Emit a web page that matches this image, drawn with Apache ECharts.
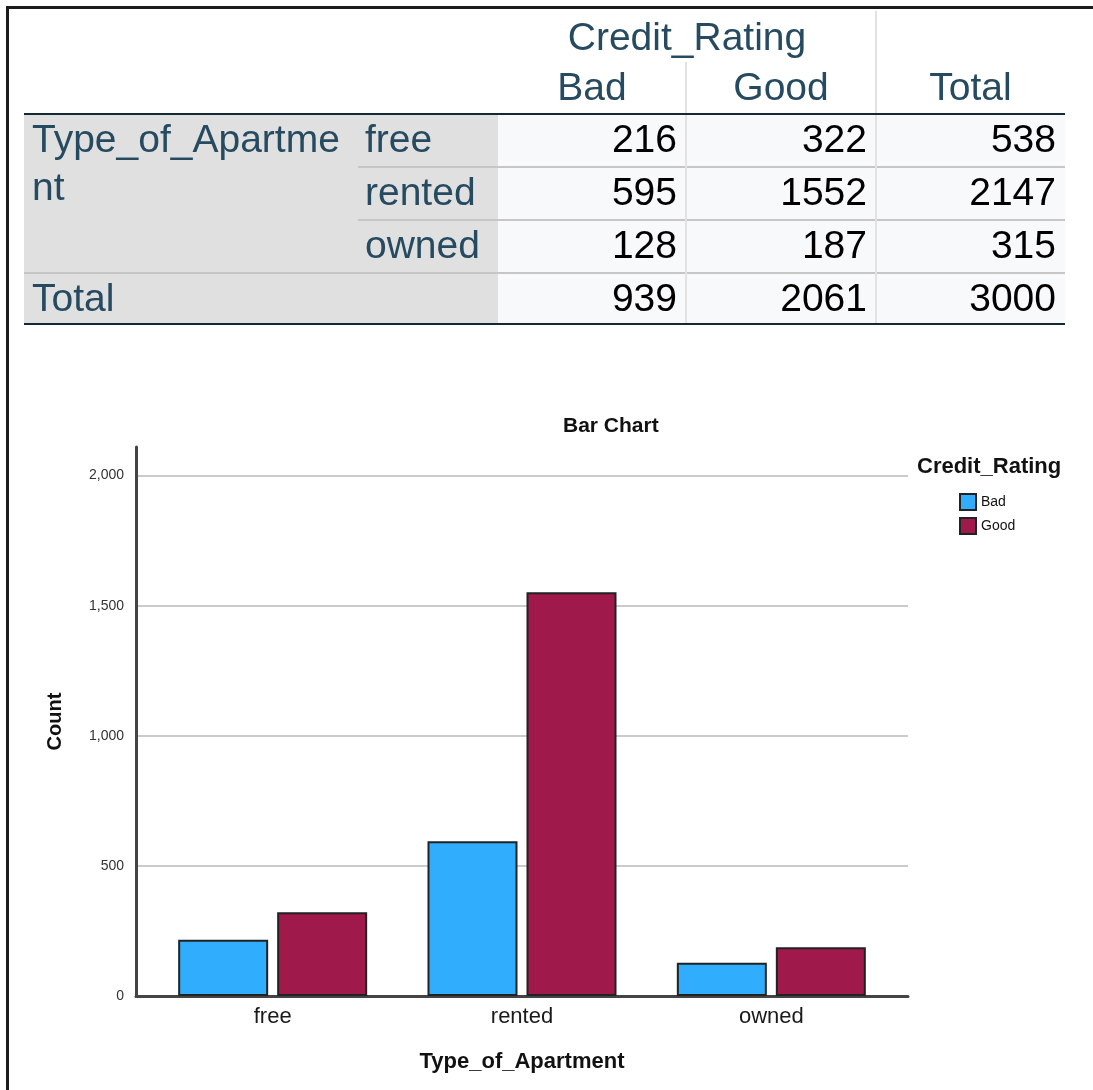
<!DOCTYPE html>
<html>
<head>
<meta charset="utf-8">
<title>Credit_Rating by Type_of_Apartment</title>
<script src="https://cdn.jsdelivr.net/npm/echarts@6/dist/echarts.min.js"></script>
<style>
  html, body { margin: 0; padding: 0; background: #fff; }
  body { width: 1093px; height: 1090px; position: relative; overflow: hidden; font-family: "Liberation Sans", Arial, sans-serif; }
  #frame { position: absolute; left: 6px; top: 6px; width: 1200px; height: 1200px; border-top: 3px solid #1c1c1c; border-left: 3px solid #1c1c1c; }
  #chart { position: absolute; left: 0; top: 0; width: 1093px; height: 1090px; }
  #tbl { position: absolute; left: 0; top: 0; width: 1093px; height: 340px; z-index: 2; }
  #tbl div { position: absolute; box-sizing: border-box; }
  .txt { font-size: 39px; line-height: 48px; white-space: nowrap; }
</style>
</head>
<body>
<div id="frame"></div>
<div id="chart"></div>
<div id="tbl"></div>
<script>
const categories = ["free", "rented", "owned"];
const ratingNames = ["Bad", "Good"];
const badCounts = [216, 595, 128];
const goodCounts = [322, 1552, 187];
const rowTotals = [538, 2147, 315];
const colTotals = [939, 2061, 3000];
const rowVar = "Type_of_Apartment";
const colVar = "Credit_Rating";
const yMax = 2110;

// ---- crosstab table (plain divs) ----
const tbl = document.getElementById("tbl");
const colX = [24, 358, 498, 686, 876, 1065];
const rowY = [114, 167, 220, 273, 324];
const labelColor = "#264a60";

function box(x, y, w, h, css) {
  let d = document.createElement("div");
  d.style.cssText = "left:" + x + "px;top:" + y + "px;width:" + w + "px;height:" + h + "px;" + (css || "");
  tbl.appendChild(d);
  return d;
}
function txt(str, x, y, w, align, color, extra) {
  let d = box(x, y, w, 48, "text-align:" + align + ";color:" + color + ";" + (extra || ""));
  d.className = "txt";
  d.textContent = str;
  return d;
}

// backgrounds
box(colX[0], rowY[0], colX[2] - colX[0], rowY[4] - rowY[0], "background:#e0e0e0");
box(colX[2], rowY[0], colX[5] - colX[2], rowY[4] - rowY[0], "background:#f8f9fa");
// grid lines
box(colX[1], rowY[1] - 1, colX[5] - colX[1], 2, "background:#c6c6c6");
box(colX[1], rowY[2] - 1, colX[5] - colX[1], 2, "background:#c6c6c6");
box(colX[0], rowY[3] - 1, colX[5] - colX[0], 2, "background:#c6c6c6");
box(colX[3] - 1, 62, 2, rowY[4] - 62, "background:#e2e2e2");
box(colX[4] - 1, 11, 2, rowY[4] - 11, "background:#e2e2e2");
box(colX[0], rowY[0] - 1, colX[5] - colX[0], 2, "background:#152935");
box(colX[0], rowY[4] - 1, colX[5] - colX[0], 2, "background:#152935");

// headers
txt(colVar, colX[2], 13, colX[4] - colX[2], "center", labelColor);
ratingNames.concat(["Total"]).forEach(function(n, i) {
  txt(n, colX[2 + i], 63, colX[3 + i] - colX[2 + i], "center", labelColor);
});

// row labels
txt(rowVar, colX[0] + 8, rowY[0] + 1, 318, "left", labelColor, "white-space:normal;word-break:break-all;height:auto");
categories.forEach(function(c, i) {
  txt(c, colX[1] + 7, rowY[i] + 1, colX[2] - colX[1] - 7, "left", labelColor);
});
txt("Total", colX[0] + 8, rowY[3] + 1, 300, "left", labelColor);

// numbers
let rows = categories.map(function(c, i) { return [badCounts[i], goodCounts[i], rowTotals[i]]; });
rows.push(colTotals);
rows.forEach(function(r, i) {
  r.forEach(function(v, j) {
    txt(String(v), colX[2 + j], rowY[i] + 1, colX[3 + j] - colX[2 + j] - 9, "right", "#000");
  });
});

// ---- bar chart ----
function commas(v) {
  return String(v).replace(/\B(?=(\d{3})+(?!\d))/g, ",");
}
const barColors = ["#31adfd", "#a0194b"];
let seriesData = [badCounts, goodCounts].map(function(vals, i) {
  return {
    name: ratingNames[i],
    type: "bar",
    xAxisIndex: 1,
    yAxisIndex: 1,
    barWidth: 90,
    barGap: "10%",
    itemStyle: {
      color: barColors[i],
      borderColor: "#222",
      borderWidth: 2
    },
    data: vals
  };
});

let option = {
  animation: false,
  textStyle: { fontFamily: "Liberation Sans, Arial, sans-serif" },
  title: [
    { text: "Bar Chart", left: 563, top: 416, padding: 0,
      textStyle: { fontSize: 21, fontWeight: "bold", color: "#111" } },
    { text: colVar, left: 917, top: 456, padding: 0,
      textStyle: { fontSize: 22, fontWeight: "bold", color: "#111" } }
  ],
  legend: {
    orient: "vertical",
    left: 959,
    top: 493,
    padding: 0,
    itemWidth: 16,
    itemHeight: 16,
    itemGap: 6,
    icon: "rect",
    textStyle: { fontSize: 14, color: "#111" },
    data: ratingNames
  },
  grid: [
    { left: 136, right: 185, top: 447, bottom: 94 },
    { left: 148, right: 197, top: 447, bottom: 94 }
  ],
  xAxis: [
    {
      gridIndex: 0,
      type: "category",
      data: categories,
      axisLine: { lineStyle: { color: "#444", width: 3 } },
      axisTick: { show: false },
      axisLabel: { show: false },
      splitLine: { show: false }
    },
    {
      gridIndex: 1,
      type: "category",
      data: categories,
      axisLine: { show: false },
      axisTick: { show: false },
      axisLabel: { fontSize: 22, color: "#1a1a1a", margin: 10 },
      name: rowVar,
      nameLocation: "middle",
      nameGap: 55,
      nameTextStyle: { fontSize: 22, fontWeight: "bold", color: "#111" }
    }
  ],
  yAxis: [
    {
      gridIndex: 0,
      type: "value",
      min: 0,
      max: yMax,
      interval: 500,
      axisLine: { show: true, lineStyle: { color: "#444", width: 3 } },
      axisTick: { show: false },
      axisLabel: { fontSize: 14, color: "#333", margin: 12, showMaxLabel: false, formatter: commas },
      splitLine: { show: true, showMaxLine: false, lineStyle: { color: "#cbcbcb", width: 2 } },
      name: "Count",
      nameLocation: "middle",
      nameRotate: 90,
      nameGap: 71,
      nameTextStyle: { fontSize: 20, fontWeight: "bold", color: "#111" }
    },
    { gridIndex: 1, type: "value", min: 0, max: yMax, show: false }
  ],
  series: seriesData
};
let myChart = echarts.init(document.getElementById("chart"));
myChart.setOption(option);
</script>
</body>
</html>
